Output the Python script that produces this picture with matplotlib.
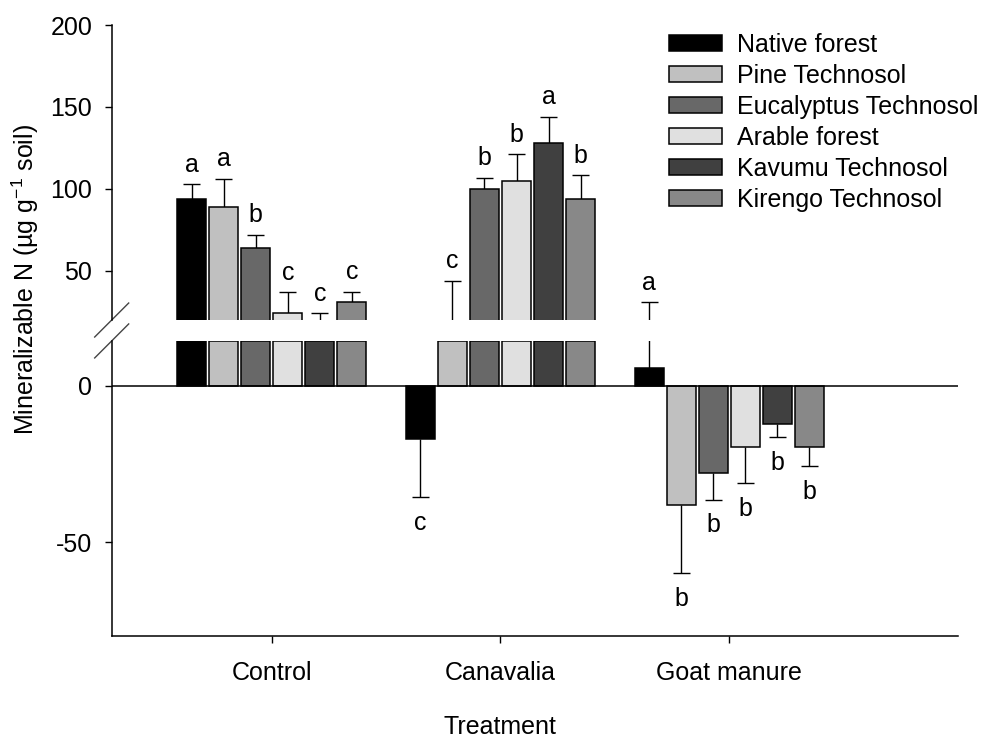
import numpy as np
import matplotlib
matplotlib.use("Agg")
import matplotlib.pyplot as plt

plt.rcParams['font.family'] = ['Liberation Sans', 'DejaVu Sans']
plt.rcParams['mathtext.fontset'] = 'custom'
plt.rcParams['mathtext.rm'] = 'Liberation Sans'
plt.rcParams['axes.unicode_minus'] = False

treatments = ["Control", "Canavalia", "Goat manure"]
soils = ["Native forest", "Pine Technosol", "Eucalyptus Technosol",
         "Arable forest", "Kavumu Technosol", "Kirengo Technosol"]
soil_colors = ["#000000", "#c0c0c0", "#686868", "#e0e0e0", "#404040", "#888888"]

# mean mineralizable N per soil, one value per treatment
native_forest = [93.7, -17.2, 5.8]
pine_technosol = [89.2, 18.0, -38.2]
eucalyptus_technosol = [63.8, 100.0, -27.8]
arable_forest = [24.2, 105.1, -19.6]
kavumu_technosol = [18.0, 128.2, -12.4]
kirengo_technosol = [30.7, 93.7, -19.6]

native_err = [9.2, 18.4, 25.0]
pine_err = [16.9, 26.0, 21.7]
eucalyptus_err = [8.3, 6.9, 8.6]
arable_err = [12.6, 16.1, 11.6]
kavumu_err = [6.0, 15.9, 4.1]
kirengo_err = [6.7, 14.6, 6.1]

native_letters = ["a", "c", "a"]
pine_letters = ["a", "c", "b"]
eucalyptus_letters = ["b", "b", "b"]
arable_letters = ["c", "b", "b"]
kavumu_letters = ["c", "a", "b"]
kirengo_letters = ["c", "b", "b"]

means = [native_forest, pine_technosol, eucalyptus_technosol,
         arable_forest, kavumu_technosol, kirengo_technosol]
errs = [native_err, pine_err, eucalyptus_err, arable_err, kavumu_err, kirengo_err]
letters = [native_letters, pine_letters, eucalyptus_letters,
           arable_letters, kavumu_letters, kirengo_letters]

low_lim = (-80, 14.3)
up_lim = (20, 200)

fig = plt.figure(figsize=(9.84, 7.42), dpi=100)
ax_up = fig.add_axes([0.1135, 0.5687, 0.86, 0.3976])
ax_low = fig.add_axes([0.1135, 0.1429, 0.86, 0.3976])

pitch = 0.14
width = 0.128
cap = 0.037
x = np.arange(len(treatments))

handles = []
for i, (m, e, lab, c) in enumerate(zip(means, errs, letters, soil_colors)):
    m = np.array(m)
    e = np.array(e)
    xi = x + (i - 2.5) * pitch
    tips = np.where(m >= 0, m + e, m - e)
    # lower panel: positive bars stop at the top of the panel so the edge is drawn
    ax_low.bar(xi, np.minimum(m, low_lim[1]), width, color=c,
               edgecolor="black", linewidth=1.1, zorder=2)
    h = ax_up.bar(xi, m, width, color=c, edgecolor="black",
                  linewidth=1.1, label=soils[i], zorder=2)
    handles.append(h)
    for ax in (ax_low, ax_up):
        ax.vlines(xi, m, tips, color="black", linewidth=1, zorder=1)
        ax.hlines(tips, xi - cap, xi + cap, color="black", linewidth=1, zorder=1)
    for xx, t, mm, s in zip(xi, tips, m, lab):
        if mm >= 0:
            ax_up.annotate(s, (xx, t), xytext=(0, 9), textcoords="offset points",
                           ha="center", va="baseline", fontsize=18)
        else:
            ax_low.annotate(s, (xx, t), xytext=(0, -10), textcoords="offset points",
                            ha="center", va="top", fontsize=18)

for ax in (ax_low, ax_up):
    ax.set_xlim(-0.7, 3.0)
    ax.spines["right"].set_visible(False)
    ax.spines["top"].set_visible(False)
    ax.spines["left"].set_linewidth(1.1)
    ax.spines["bottom"].set_linewidth(1.1)
    ax.tick_params(axis="y", direction="out", length=5, width=1,
                   labelsize=18, pad=9)

ax_up.set_ylim(*up_lim)
ax_up.set_yticks([50, 100, 150, 200])
ax_up.spines["bottom"].set_visible(False)
ax_up.set_xticks([])

ax_low.set_ylim(*low_lim)
ax_low.set_yticks([-50, 0])
ax_low.axhline(0, color="black", linewidth=1.1, zorder=3)
ax_low.set_xticks(x)
ax_low.set_xticklabels(treatments)
ax_low.tick_params(axis="x", direction="out", length=5, width=1,
                   labelsize=18, pad=13)

# break marks on the y axis
dx = 17 / (0.86 * 984)
dy = 17 / (0.3976 * 742)
ax_up.plot([-dx, dx], [-dy, dy], transform=ax_up.transAxes,
           color="#444444", linewidth=1, clip_on=False)
ax_low.plot([-dx, dx], [1 - dy, 1 + dy], transform=ax_low.transAxes,
            color="#444444", linewidth=1, clip_on=False)

fig.text(25 / 984, 1 - 280 / 742, r"Mineralizable N (µg g$^{-1}$ soil)",
         rotation=90, ha="center", va="center", fontsize=18)
fig.text(500 / 984, 1 - 727 / 742, "Treatment", ha="center", va="center",
         fontsize=18)

fig.legend(handles=handles, loc="upper left",
           bbox_to_anchor=(669 / 984, 1 - 33 / 742),
           frameon=False, fontsize=18, borderpad=0, borderaxespad=0,
           handlelength=2.12, handleheight=0.64, handletextpad=0.6,
           labelspacing=0.28)

fig.savefig("out.png", dpi=100)
